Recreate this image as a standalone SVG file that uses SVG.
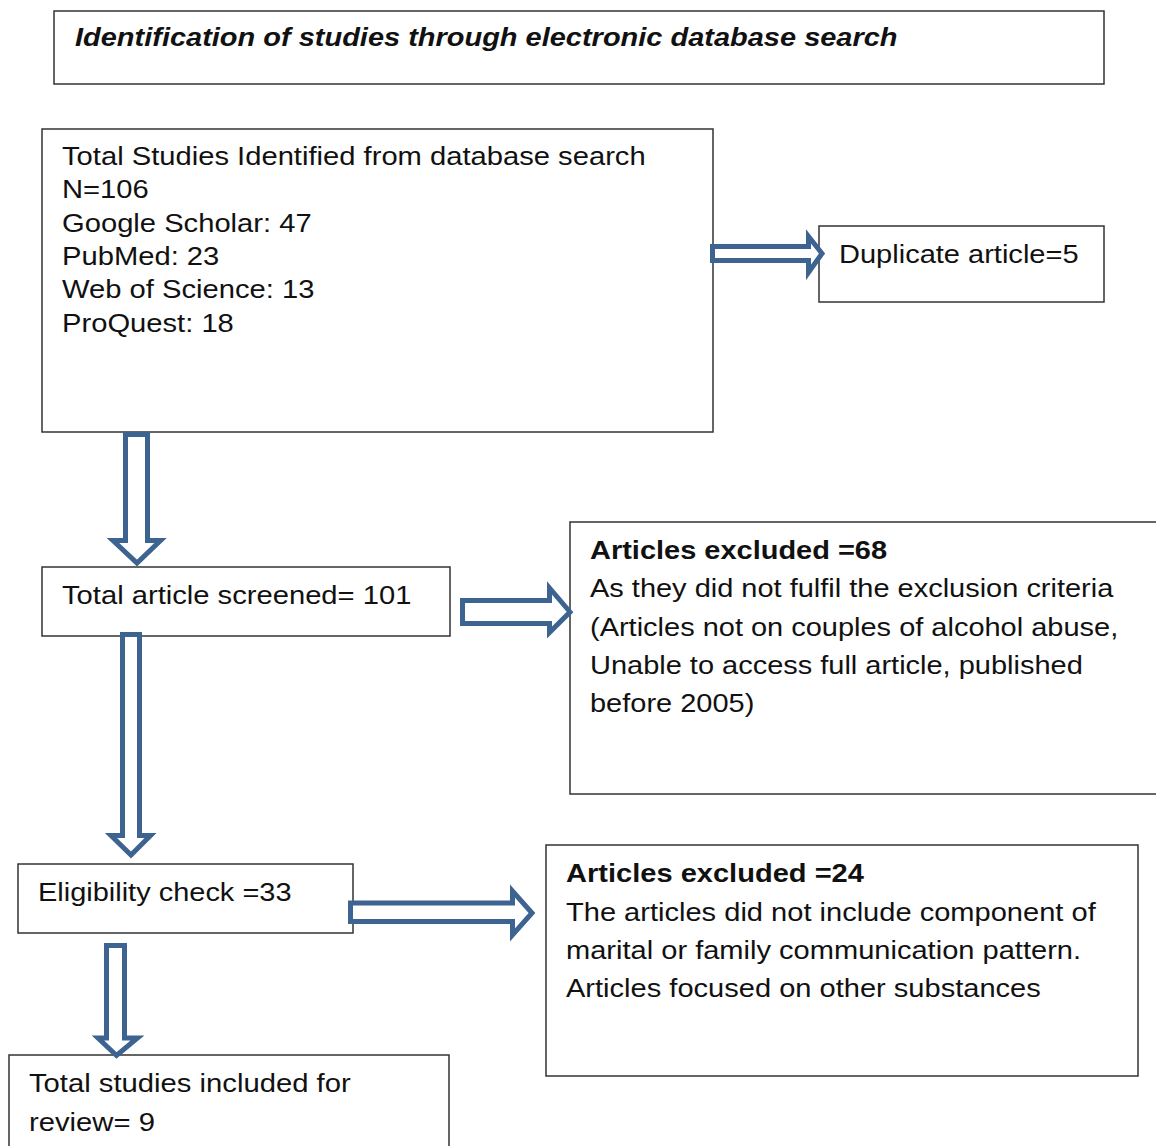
<svg xmlns="http://www.w3.org/2000/svg" width="1156" height="1146" viewBox="0 0 1156 1146">
<style>
.box{fill:#fff;stroke:#333;stroke-width:1.5}
.t{font-family:"Liberation Sans",Arial,sans-serif;font-size:26px;fill:#111}
.b{font-weight:bold}
.ti{font-family:"Liberation Sans",Arial,sans-serif;font-size:26px;font-weight:bold;font-style:italic;fill:#111}
.arr{fill:#fff;stroke:#3d6391;stroke-width:5;stroke-linejoin:miter}
</style>
<rect width="1156" height="1146" fill="#fff"/>
<g id="title"><rect class="box" x="54" y="11" width="1050" height="73"/><g transform="translate(75,0) scale(1.115,1) translate(-75,0)"><text class="ti" x="75" y="46">Identification of studies through electronic database search</text></g></g>
<g id="identified"><rect class="box" x="42" y="129" width="671" height="303"/>
<g transform="translate(62,0) scale(1.122,1) translate(-62,0)">
<text class="t" x="62" y="165">Total Studies Identified from database search</text>
<text class="t" x="62" y="198">N=106</text>
<text class="t" x="62" y="232">Google Scholar: 47</text>
<text class="t" x="62" y="265">PubMed: 23</text>
<text class="t" x="62" y="298">Web of Science: 13</text>
<text class="t" x="62" y="332">ProQuest: 18</text></g></g>
<g id="duplicate"><rect class="box" x="819" y="226" width="285" height="76"/><g transform="translate(839,0) scale(1.117,1) translate(-839,0)"><text class="t" x="839" y="263">Duplicate article=5</text></g></g>
<g id="screened"><rect class="box" x="42" y="567" width="408" height="69"/><g transform="translate(62,0) scale(1.122,1) translate(-62,0)"><text class="t" x="62" y="604">Total article screened= 101</text></g></g>
<g id="excluded68"><rect class="box" x="570" y="522" width="600" height="272"/>
<g transform="translate(590,0) scale(1.115,1) translate(-590,0)">
<text class="t b" x="590" y="559">Articles excluded =68</text>
<text class="t" x="590" y="597">As they did not fulfil the exclusion criteria</text>
<text class="t" x="590" y="636">(Articles not on couples of alcohol abuse,</text>
<text class="t" x="590" y="674">Unable to access full article, published</text>
<text class="t" x="590" y="712">before 2005)</text></g></g>
<g id="eligibility"><rect class="box" x="18" y="864" width="335" height="69"/><g transform="translate(38,0) scale(1.114,1) translate(-38,0)"><text class="t" x="38" y="901">Eligibility check =33</text></g></g>
<g id="excluded24"><rect class="box" x="546" y="845" width="592" height="231"/>
<g transform="translate(566,0) scale(1.118,1) translate(-566,0)">
<text class="t b" x="566" y="882">Articles excluded =24</text>
<text class="t" x="566" y="921">The articles did not include component of</text>
<text class="t" x="566" y="959">marital or family communication pattern.</text>
<text class="t" x="566" y="997">Articles focused on other substances</text></g></g>
<g id="included"><rect class="box" x="9" y="1055" width="440" height="110"/>
<g transform="translate(29,0) scale(1.125,1) translate(-29,0)">
<text class="t" x="29" y="1092">Total studies included for</text>
<text class="t" x="29" y="1131">review= 9</text></g></g>
<g id="connectors">
<path class="arr" d="M712.5,246.5 H808.5 V236.5 L822,253.5 L808.5,272.5 V260.5 H712.5 Z"/>
<path class="arr" d="M125.5,434.5 V540.5 H113 L137,563 L160.5,540.5 H147.5 V434.5 Z"/>
<path class="arr" d="M462.5,600.5 H549.5 V588 L570,612 L549.5,632.5 V623.5 H462.5 Z"/>
<path class="arr" d="M122.5,634.5 V835.5 H111 L131,855 L150.5,835.5 H139.5 V634.5 Z"/>
<path class="arr" d="M350.5,903 H512.5 V891 L532,913 L512.5,935 V921.5 H350.5 Z"/>
<path class="arr" d="M106.5,945.5 V1038 H98 L116.5,1055.5 L137.5,1038 H124.5 V945.5 Z"/>
</g>
</svg>
